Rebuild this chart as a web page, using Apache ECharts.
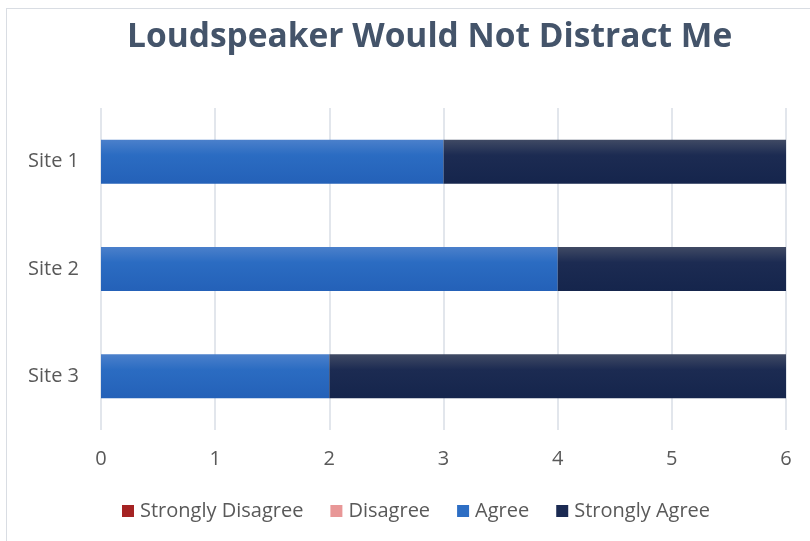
<!DOCTYPE html>
<html>
<head>
<meta charset="utf-8">
<script src="https://cdn.jsdelivr.net/npm/echarts@6/dist/echarts.min.js"></script>
<style>
html,body{margin:0;padding:0;background:#fff;overflow:hidden;}
#frame{position:absolute;left:6px;top:8px;width:900px;height:700px;border-left:1px solid #d9dde3;border-top:1px solid #d9dde3;}
#chart{position:absolute;left:0;top:0;width:810px;height:541px;}
</style>
</head>
<body>
<div id="frame"></div>
<div id="chart"></div>
<script>
const titleText = "Loudspeaker Would Not Distract Me";
const categories = ["Site 1", "Site 2", "Site 3"];
const seriesNames = ["Strongly Disagree", "Disagree", "Agree", "Strongly Agree"];
const stronglyDisagree = [0, 0, 0];
const disagree = [0, 0, 0];
const agree = [3, 4, 2];
const stronglyAgree = [3, 2, 4];
const xTicks = [0, 1, 2, 3, 4, 5, 6];

function grad(top, mid, bottom) {
  return new echarts.graphic.LinearGradient(0, 0, 0, 1, [
    {offset: 0, color: top}, {offset: 0.35, color: mid}, {offset: 1, color: bottom}
  ]);
}
const colors = [
  grad('#b83a3a', '#a32020', '#981c1c'),
  grad('#eea5a5', '#e69393', '#e08a8a'),
  grad('#4b80cb', '#2b6cc2', '#2461b8'),
  grad('#404a64', '#1c2b52', '#15254c')
];
const legendColors = ['#a52323', '#e89797', '#2d6ec4', '#1b2a52'];
const values = [stronglyDisagree, disagree, agree, stronglyAgree];

const chart = echarts.init(document.getElementById('chart'), null, {renderer: 'canvas'});
chart.setOption({
  animation: false,
  backgroundColor: 'transparent',
  title: {
    text: titleText,
    left: 122,
    top: 15,
    textStyle: {fontFamily: 'Open Sans', fontSize: 33.5, fontWeight: 'bold', color: '#44546a'}
  },
  legend: {
    data: seriesNames.map((n, i) => ({name: n, itemStyle: {color: legendColors[i]}})),
    top: 496,
    left: 117,
    icon: 'rect',
    itemWidth: 12,
    itemHeight: 12,
    itemGap: 27,
    textStyle: {fontFamily: 'Open Sans', fontSize: 20, color: '#595959', padding: [0, 0, 0, 1]}
  },
  grid: {left: 101, right: 24, top: 108, bottom: 111, containLabel: false},
  xAxis: {
    type: 'value',
    min: 0, max: 6, interval: 1,
    axisLine: {show: false},
    axisTick: {show: false},
    axisLabel: {
      margin: 19, fontFamily: 'Open Sans', fontSize: 20, color: '#595959',
      formatter: v => xTicks.includes(v) ? String(v) : ''
    },
    splitLine: {show: true, lineStyle: {color: '#d9dee6', width: 1.5}}
  },
  yAxis: {
    type: 'category',
    data: categories,
    inverse: true,
    axisLine: {show: false},
    axisTick: {show: false},
    axisLabel: {margin: 22, fontFamily: 'Open Sans', fontSize: 20, color: '#595959'}
  },
  series: seriesNames.map((n, i) => ({
    name: n,
    type: 'bar',
    stack: 'total',
    barWidth: 44,
    data: values[i],
    itemStyle: {color: colors[i]}
  }))
});
</script>
</body>
</html>
